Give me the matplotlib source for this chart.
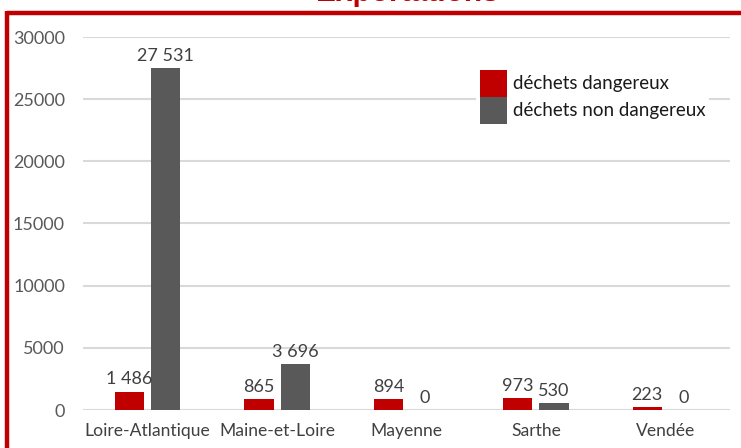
import matplotlib
matplotlib.use("Agg")
import matplotlib.pyplot as plt
import numpy as np
from matplotlib.lines import Line2D

categories = ["Loire-Atlantique", "Maine-et-Loire", "Mayenne", "Sarthe", "Vendée"]
dangereux = [1486, 865, 894, 973, 223]
non_dangereux = [27531, 3696, 0, 530, 0]
series_names = ["déchets dangereux", "déchets non dangereux"]
yticks = [0, 5000, 10000, 15000, 20000, 25000, 30000]
title = "Exportations"

plt.rcParams['font.family'] = ['Lato', 'DejaVu Sans']

W, H = 741, 448
fig = plt.figure(figsize=(W / 100, H / 100), dpi=100)
ax = fig.add_axes([83 / W, 1 - 410 / H, (730 - 83) / W, (410 - 37) / H])

x = np.arange(len(categories))
bw = 0.225
off = 0.14
red = "#C00000"
gray = "#595959"
b1 = ax.bar(x - off, dangereux, bw, color=red, label=series_names[0], zorder=3)
b2 = ax.bar(x + off, non_dangereux, bw, color=gray, label=series_names[1], zorder=3)

def fmt(v):
    return f"{v:,}".replace(",", " ")

for bars, vals in ((b1, dangereux), (b2, non_dangereux)):
    for r, v in zip(bars, vals):
        ax.annotate(fmt(v), (r.get_x() + r.get_width() / 2, v), xytext=(0, 3),
                    textcoords="offset points", ha="center", va="bottom",
                    fontsize=13, color="#404040")

ax.set_xlim(-0.5, len(categories) - 0.5)
ax.set_ylim(0, 30000)
ax.set_yticks(yticks)
ax.set_yticklabels([str(t) for t in yticks])
ax.set_xticks(x)
ax.set_xticklabels(categories)
ax.tick_params(axis="y", length=0, pad=13, labelsize=13, labelcolor="#595959")
ax.tick_params(axis="x", length=0, pad=9, labelsize=12.6, labelcolor="#404040")
for s in ax.spines.values():
    s.set_visible(False)
ax.yaxis.grid(True, color="#D9D9D9", linewidth=1.5, zorder=0)
ax.set_axisbelow(True)

leg = ax.legend(loc="upper left", bbox_to_anchor=((476 - 83) / 647, 1 - (66 - 37) / 373),
                frameon=True, fancybox=False, edgecolor="none", facecolor="white",
                framealpha=1, fontsize=13.5, handlelength=1.44, handleheight=1.85,
                labelspacing=0.0, handletextpad=0.32, borderpad=0.2,
                borderaxespad=0)
for t in leg.get_texts():
    t.set_color("#1a1a1a")

# red frame (top & left)
fig.add_artist(Line2D([7 / W, 1], [1 - 13 / H, 1 - 13 / H], color=red, linewidth=3.2,
                      transform=fig.transFigure, solid_capstyle="butt"))
fig.add_artist(Line2D([7 / W, 7 / W], [0, 1 - 11.5 / H], color=red, linewidth=3.2,
                      transform=fig.transFigure, solid_capstyle="butt"))

fig.text(407 / W, 1 - 1 / H, title, ha="center", va="baseline", fontsize=21.5,
         fontweight="bold", color=red, family=["Liberation Sans", "DejaVu Sans"])

fig.savefig("out.png", dpi=100)
